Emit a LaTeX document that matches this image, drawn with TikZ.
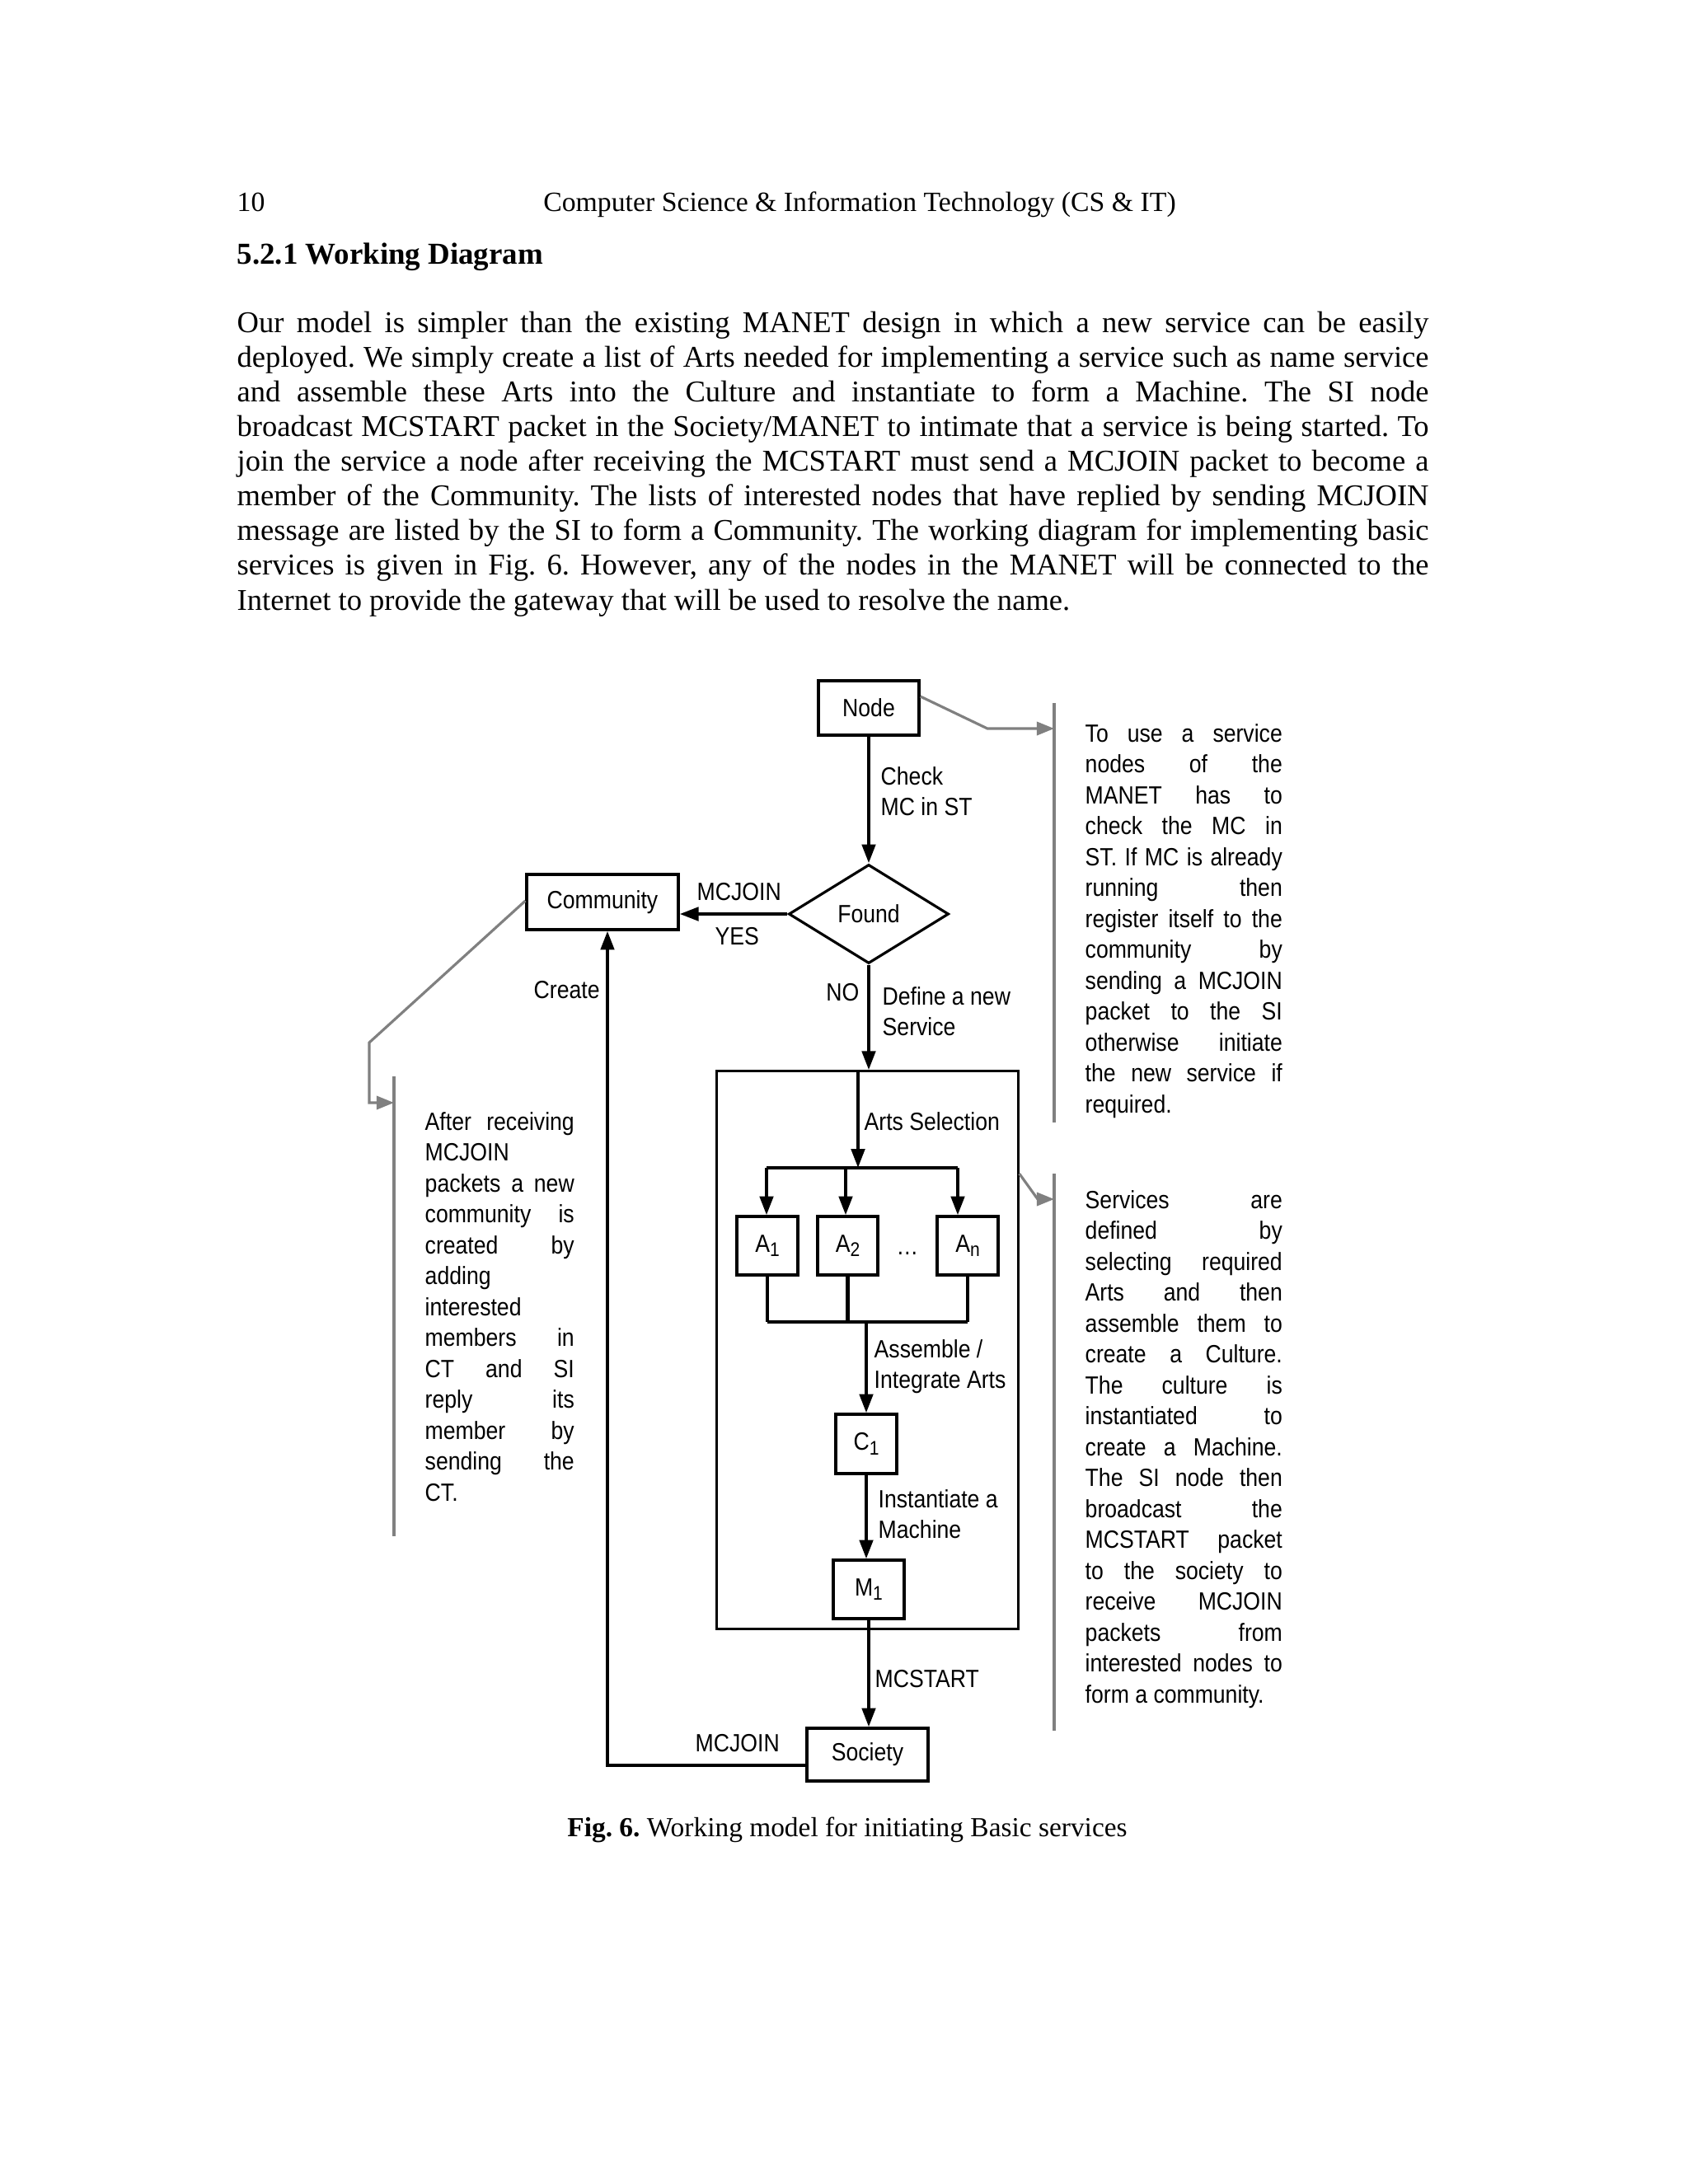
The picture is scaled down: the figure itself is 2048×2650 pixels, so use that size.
\documentclass[tikz,border=0pt]{standalone}
\usepackage{fontspec}
\setmainfont{Liberation Serif}
\newfontfamily\dfont[FakeStretch=0.88]{Liberation Sans}
\usetikzlibrary{shapes.geometric,arrows.meta}
\hbadness=10000 \hfuzz=60pt \vbadness=10000
\frenchspacing
\definecolor{cgray}{RGB}{128,128,128}
\newcommand\jl[1]{\hbox to\hsize{#1}}
\newcommand\twol[2]{\vtop{\hbox{#1}\hbox{#2}}}
\newcommand\sbs[1]{\raisebox{-0.35ex}{\fontsize{6.8}{7}\selectfont #1}}
\tikzset{
 dtext/.style={font=\dfont\fontsize{8.6}{10.67}\selectfont, inner sep=0pt},
 box/.style={draw, line width=0.9pt, dtext},
 arr/.style={line width=1.2pt, -{Triangle[length=6.5pt,width=4.6pt]}},
 plainln/.style={line width=1.2pt},
 gline/.style={draw=cgray, line width=0.9pt},
 garr/.style={gline, -{Triangle[length=6pt,width=4.6pt]}},
 lbl/.style={dtext, anchor=base west},
 serif/.style={font=\fontsize{10.4}{12}\selectfont, inner sep=0pt},
}
\begin{document}
\begin{tikzpicture}[x=0.01cm,y=-0.01cm]
\fill[white] (0,0) rectangle (2048,2650);
\useasboundingbox (0,0) rectangle (2048,2650);

% ---------- page text ----------
\node[serif, anchor=base west, font=\fontsize{9.6}{12}\selectfont] (pagenum) at (287,256) {10};
\node[serif, anchor=base, font=\fontsize{9.6}{12}\selectfont] (runhead) at (1043,256) {Computer Science \& Information Technology (CS \& IT)};
\node[serif, anchor=base west, font=\fontsize{10.5}{12}\selectfont\bfseries] (heading) at (287,320) {5.2.1 Working Diagram};
\node[serif, anchor=base west] (para) at (287,403) {\vtop{\hsize=14.45cm \baselineskip=0.421cm \lineskiplimit=-20pt
\jl{Our model is simpler than the existing MANET design in which a new service can be easily}
\jl{deployed. We simply create a list of Arts needed for implementing a service such as name service}
\jl{and assemble these Arts into the Culture and instantiate to form a Machine. The SI node}
\jl{broadcast MCSTART packet in the Society/MANET to intimate that a service is being started. To}
\jl{join the service a node after receiving the MCSTART must send a MCJOIN packet to become a}
\jl{member of the Community. The lists of interested nodes that have replied by sending MCJOIN}
\jl{message are listed by the SI to form a Community. The working diagram for implementing basic}
\jl{services is given in Fig. 6. However, any of the nodes in the MANET will be connected to the}
\hbox{Internet to provide the gateway that will be used to resolve the name.}}};

\node[anchor=base, inner sep=0pt, font=\fontsize{9.5}{11}\selectfont] (caption) at (1028,2228) {\textbf{Fig. 6.} Working model for initiating Basic services};

% ---------- diagram nodes ----------
\node[box, minimum width=1.22cm, minimum height=0.66cm] (node) at (1054,859) {Node};
\node[box, shape=diamond, aspect=1.62, minimum width=1.94cm, minimum height=1.20cm] (found) at (1054,1109) {Found};
\node[box, minimum width=1.84cm, minimum height=0.67cm] (community) at (731,1094.5) {Community};
\node[draw, line width=0.9pt, minimum width=3.65cm, minimum height=6.76cm, inner sep=0pt] (artsbox) at (1052.5,1638) {};
\node[box, minimum width=0.74cm, minimum height=0.71cm] (a1) at (931,1511.5) {A\sbs{1}};
\node[box, minimum width=0.73cm, minimum height=0.71cm] (a2) at (1028.5,1511.5) {A\sbs{2}};
\node[box, minimum width=0.74cm, minimum height=0.71cm] (an) at (1174,1511.5) {A\sbs{n}};
\node[dtext, anchor=base] (dots) at (1101,1522) {\ldots};
\node[box, minimum width=0.74cm, minimum height=0.72cm] (c1) at (1051,1752) {C\sbs{1}};
\node[box, minimum width=0.86cm, minimum height=0.71cm] (m1) at (1054,1928.5) {M\sbs{1}};
\node[box, minimum width=1.47cm, minimum height=0.64cm] (society) at (1052.5,2129) {Society};

% ---------- labels ----------
\node[lbl] (lchk) at (1068,952) {\twol{Check}{MC in ST}};
\node[lbl] (lmcj1) at (845,1092) {MCJOIN};
\node[lbl] (lyes) at (867,1146) {YES};
\node[dtext, anchor=base east] (lno) at (1043,1214) {NO};
\node[lbl] (ldef) at (1070,1219) {\twol{Define a new}{Service}};
\node[lbl] (lcreate) at (647,1211) {Create};
\node[lbl] (lsel) at (1048,1371) {Arts Selection};
\node[lbl] (lasm) at (1060,1647) {\twol{Assemble /}{Integrate Arts}};
\node[lbl] (linst) at (1065,1829) {\twol{Instantiate a}{Machine}};
\node[lbl] (lstart) at (1061,2047) {MCSTART};
\node[lbl] (lmcj2) at (843,2125) {MCJOIN};

% ---------- notes ----------
\node[lbl] (note1) at (1316,900) {\vtop{\hsize=2.39cm
\jl{To use a service}
\jl{nodes of the}
\jl{MANET has to}
\jl{check the MC in}
\jl{ST. If MC is already}
\jl{running then}
\jl{register itself to the}
\jl{community by}
\jl{sending a MCJOIN}
\jl{packet to the SI}
\jl{otherwise initiate}
\jl{the new service if}
\hbox{required.}}};

\node[lbl] (note2) at (1316,1466) {\vtop{\hsize=2.39cm
\jl{Services are}
\jl{defined by}
\jl{selecting required}
\jl{Arts and then}
\jl{assemble them to}
\jl{create a Culture.}
\jl{The culture is}
\jl{instantiated to}
\jl{create a Machine.}
\jl{The SI node then}
\jl{broadcast the}
\jl{MCSTART packet}
\jl{to the society to}
\jl{receive MCJOIN}
\jl{packets from}
\jl{interested nodes to}
\hbox{form a community.}}};

\node[lbl] (note3) at (515,1371) {\vtop{\hsize=1.81cm
\jl{After receiving}
\jl{MCJOIN\hfil}
\jl{packets a new}
\jl{community is}
\jl{created by}
\jl{adding\hfil}
\jl{interested\hfil}
\jl{members in}
\jl{CT and SI}
\jl{reply its}
\jl{member by}
\jl{sending the}
\hbox{CT.}}};

% ---------- coordinates ----------
\coordinate (split) at (1041,1417);
\coordinate (b1) at (930,1417);
\coordinate (b2) at (1026,1417);
\coordinate (b3) at (1162,1417);
\coordinate (j1) at (929,1604);
\coordinate (cj) at (737,2142);
\coordinate (gt0) at (1115,845);
\coordinate (gt1) at (1198,884);
\coordinate (gt2) at (1279,884);
\coordinate (gb0) at (1235,1424);
\coordinate (gb1) at (1259,1455);
\coordinate (gb2) at (1279,1455);
\coordinate (gl0) at (639,1093);
\coordinate (gl1) at (448,1265);
\coordinate (gl2) at (448,1338);
\coordinate (gl3) at (478,1338);

% ---------- connectors ----------
\draw[arr] (node.south) -- (found.north);
\draw[arr] (found.west) -- (found.west -| community.east);
\draw[arr] (found.south) -- (found.south |- artsbox.north);
\draw[arr] (artsbox.north -| split) -- (split);
\draw[plainln] (b1) -- (b3);
\draw[arr] (b1) -- (b1 |- a1.north);
\draw[arr] (b2) -- (b2 |- a2.north);
\draw[arr] (b3) -- (b3 |- an.north);
\draw[plainln] (a1.south) -- (a1.south |- j1);
\draw[plainln] (a2.south) -- (a2.south |- j1);
\draw[plainln] (an.south) -- (an.south |- j1);
\draw[plainln] (a1.south |- j1) -- (an.south |- j1);
\draw[arr] (c1.north |- j1) -- (c1.north);
\draw[arr] (c1.south) -- (c1.south |- m1.north);
\draw[arr] (m1.south) -- (m1.south |- society.north);
\draw[arr] (society.west |- cj) -- (cj) -- (cj |- community.south);

% ---------- gray callouts ----------
\draw[garr] (node.east |- gt0) -- (gt1) -- (gt2);
\draw[gline] (1279,853) -- (1279,1362);
\draw[garr] (artsbox.east |- gb0) -- (gb1) -- (gb2);
\draw[gline] (1279,1424) -- (1279,2100);
\draw[garr] (community.west |- gl0) -- (gl1) -- (gl2) -- (gl3);
\draw[gline] (478,1306) -- (478,1864);
\end{tikzpicture}
\end{document}
